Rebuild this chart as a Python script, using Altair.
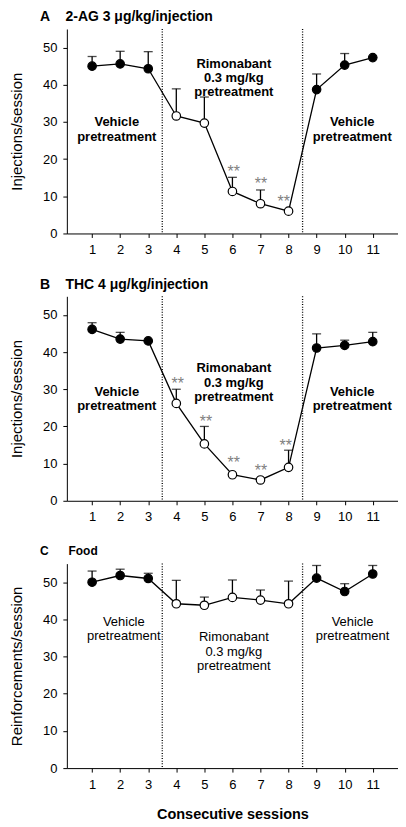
import altair as alt
import pandas as pd

FONT = "Liberation Sans"

sessions = list(range(1, 12))
phase = ["vehicle"] * 3 + ["rimonabant"] * 5 + ["vehicle"] * 3
boundaries = [3.5, 8.5]

# Panel A: 2-AG 3 ug/kg/injection
a_mean = [45.0, 45.6, 44.3, 31.6, 29.7, 11.3, 8.0, 6.0, 38.7, 45.3, 47.3]
a_upper = [47.6, 49.0, 48.9, 38.9, 36.7, 15.1, 11.7, 6.0, 42.9, 48.4, 47.3]
a_star_x = [6.05, 7.02, 7.83]
a_star_y = [17.7, 14.4, 9.4]

# Panel B: THC 4 ug/kg/injection
b_mean = [46.1, 43.5, 43.0, 26.2, 15.3, 7.0, 5.6, 9.0, 41.1, 41.8, 42.8]
b_upper = [47.9, 45.3, 43.0, 30.0, 20.0, 7.0, 5.6, 13.6, 44.9, 43.2, 45.3]
b_star_x = [4.05, 5.06, 6.05, 7.02, 7.9]
b_star_y = [32.5, 22.2, 11.2, 9.2, 15.9]

# Panel C: Food
c_mean = [50.0, 51.8, 51.0, 44.2, 43.8, 45.9, 45.2, 44.2, 51.1, 47.5, 52.2]
c_upper = [53.0, 53.5, 52.4, 50.5, 46.0, 50.6, 47.9, 50.3, 54.5, 49.6, 54.5]

ann_text = ["Vehicle\npretreatment", "Rimonabant\n0.3 mg/kg\npretreatment", "Vehicle\npretreatment"]
a_ann_x = [1.88, 6.05, 10.27]
a_ann_y = [29.9, 45.7, 29.9]
b_ann_x = [1.88, 6.05, 10.27]
b_ann_y = [29.25, 35.7, 29.25]
c_ann_x = [2.13, 6.05, 10.28]
c_ann_y = [39.4, 35.2, 39.4]

x_ticks = sessions
y_ticks = [0, 10, 20, 30, 40, 50]

W = 332
H = 205


def panel(mean, upper, star_x, star_y, ann_x, ann_y, ann_bold, title, title_size,
          title_offset, ytitle, xtitle):
    df = pd.DataFrame({"session": sessions, "mean": mean, "upper": upper, "phase": phase})
    xs = alt.Scale(domain=[0.1, 11.9], nice=False, zero=False)
    ys = alt.Scale(domain=[0, 55], nice=False, zero=True)
    x_axis = alt.Axis(values=x_ticks, title=xtitle, grid=False, tickSize=4,
                      labelPadding=6, labelFontSize=13, titleFontSize=14.5,
                      titleFontWeight="bold", titlePadding=17, labelFlush=False,
                      labelOverlap=False)
    y_axis = alt.Axis(values=y_ticks, title=ytitle, grid=False, tickSize=4,
                      labelPadding=6, labelFontSize=13, titleFontSize=15,
                      titleFontWeight="normal", titlePadding=18, labelOverlap=False)
    base = alt.Chart(df)

    def X(field):
        return alt.X(field, scale=xs, axis=x_axis)

    def Y(field):
        return alt.Y(field, scale=ys, axis=y_axis)

    vlines = alt.Chart(pd.DataFrame({"b": boundaries})).mark_rule(
        color="black", strokeDash=[1, 1.6], strokeWidth=1.3
    ).encode(x=X("b:Q"))

    err = base.mark_rule(color="black", strokeWidth=1.3).encode(
        x=X("session:Q"), y=Y("mean:Q"), y2="upper:Q")
    caps = base.mark_tick(orient="horizontal", color="black", size=9, thickness=1.3).encode(
        x=X("session:Q"), y=Y("upper:Q"))
    line = base.mark_line(color="black", strokeWidth=1.3).encode(
        x=X("session:Q"), y=Y("mean:Q"))
    pts = base.mark_point(shape="circle", filled=True, size=72, stroke="black",
                          strokeWidth=1.2, opacity=1).encode(
        x=X("session:Q"), y=Y("mean:Q"),
        fill=alt.Fill("phase:N", scale=alt.Scale(domain=["vehicle", "rimonabant"],
                                                 range=["black", "white"]), legend=None))
    ann = alt.Chart(pd.DataFrame({"x": ann_x, "y": ann_y, "t": ann_text})).mark_text(
        font=FONT, fontSize=13, fontWeight="bold" if ann_bold else "normal",
        lineBreak="\n", lineHeight=14.5, align="center", baseline="middle", color="black"
    ).encode(x=X("x:Q"), y=Y("y:Q"), text="t:N")

    layers = [vlines, err, caps, line, pts, ann]
    if star_x:
        stars = alt.Chart(pd.DataFrame({"x": star_x, "y": star_y, "t": ["**"] * len(star_x)})).mark_text(
            font=FONT, fontSize=16, color="#808080", align="center", baseline="alphabetic", dy=9
        ).encode(x=X("x:Q"), y=Y("y:Q"), text="t:N")
        layers.append(stars)

    return alt.layer(*layers).properties(
        width=W, height=H,
        title=alt.TitleParams(text=title, anchor="start", frame="group", dx=-27,
                              offset=title_offset, fontSize=title_size,
                              fontWeight="bold", font=FONT, color="black"),
    )


nb = "\u00a0"
pa = panel(a_mean, a_upper, a_star_x, a_star_y, a_ann_x, a_ann_y, True,
           "A" + nb * 4 + "2-AG 3 μg/kg/injection", 14, 4, "Injections/session", None)
pb = panel(b_mean, b_upper, b_star_x, b_star_y, b_ann_x, b_ann_y, True,
           "B" + nb * 4 + "THC 4 μg/kg/injection", 14, 4, "Injections/session", None)
pc = panel(c_mean, c_upper, [], [], c_ann_x, c_ann_y, False,
           "C" + nb * 6 + "Food", 12, 4.5, "Reinforcements/session", "Consecutive sessions")

chart = alt.vconcat(
    pa, pb, pc, spacing=63, bounds="flush",
).properties(
    padding={"left": 1, "top": 1, "right": 0, "bottom": 0}
).configure(
    font=FONT,
).configure_view(
    stroke=None
).configure_axis(
    domainColor="black", tickColor="black", labelColor="black", titleColor="black",
    labelFont=FONT, titleFont=FONT, domainWidth=1, tickWidth=1
)

chart.save("out.html", embed_options={"renderer": "svg", "actions": False})
